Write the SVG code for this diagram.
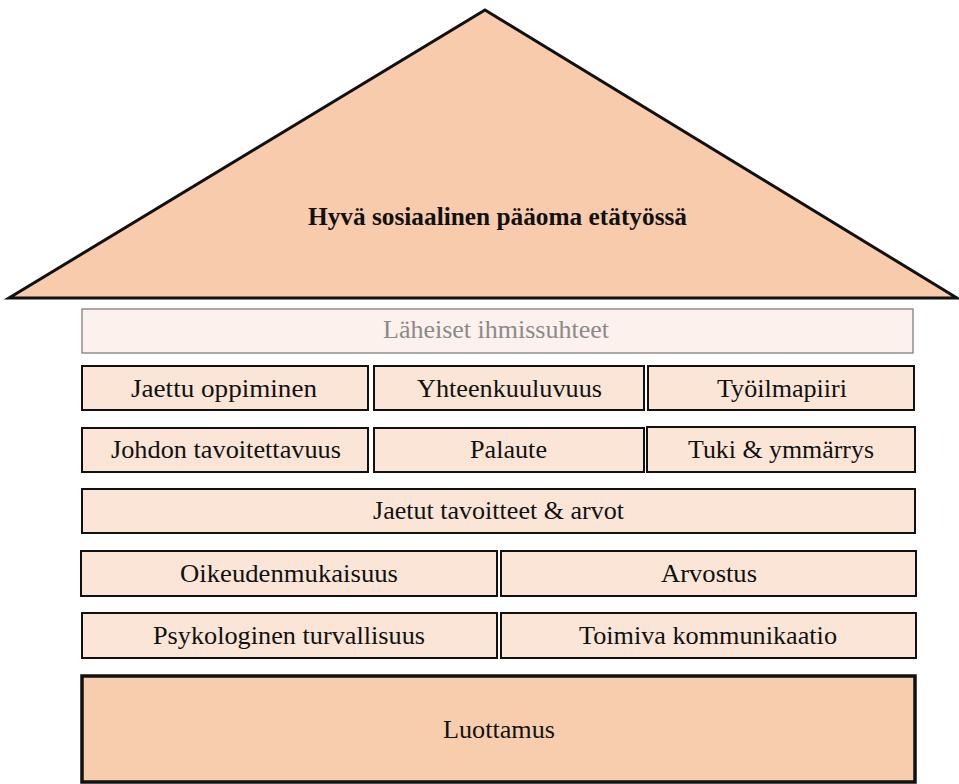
<svg xmlns="http://www.w3.org/2000/svg" width="959" height="784" viewBox="0 0 959 784">
<style>
.box{fill:#FBE5D6;stroke:#111;stroke-width:2}
.light{fill:#FCF1EC;stroke:#7F7F7F;stroke-width:1.3}
.strong{fill:#F8CDAE;stroke:#111;stroke-width:3.5}
text{font-family:"Liberation Serif","DejaVu Serif",serif;font-size:26px;fill:#111;text-anchor:middle}
.grey{fill:#8A8A8A}
.bold{font-weight:bold}
</style>
<rect width="959" height="784" fill="#fff"/>
<g id="roof">
<polygon points="485,10 957,298 9,298" fill="#F8CBAD" stroke="#111" stroke-width="3"/>
<text class="bold" x="497.5" y="225" textLength="379" lengthAdjust="spacingAndGlyphs">Hyvä sosiaalinen pääoma etätyössä</text>
</g>
<g id="laheiset">
<rect class="light" x="82" y="309" width="831" height="44"/>
<text class="grey" x="496" y="338" textLength="226" lengthAdjust="spacingAndGlyphs">Läheiset ihmissuhteet</text>
</g>
<g id="jaettu-oppiminen">
<rect class="box" x="82" y="366" width="286" height="44"/>
<text x="224" y="397" textLength="186" lengthAdjust="spacingAndGlyphs">Jaettu oppiminen</text>
</g>
<g id="yhteenkuuluvuus">
<rect class="box" x="374" y="366" width="270" height="44"/>
<text x="509.5" y="397" textLength="185" lengthAdjust="spacingAndGlyphs">Yhteenkuuluvuus</text>
</g>
<g id="tyoilmapiiri">
<rect class="box" x="648" y="366" width="266" height="44"/>
<text x="782" y="397" textLength="130" lengthAdjust="spacingAndGlyphs">Työilmapiiri</text>
</g>
<g id="johdon-tavoitettavuus">
<rect class="box" x="82" y="428" width="286" height="44"/>
<text x="226" y="458" textLength="230" lengthAdjust="spacingAndGlyphs">Johdon tavoitettavuus</text>
</g>
<g id="palaute">
<rect class="box" x="374" y="428" width="270" height="44"/>
<text x="508.5" y="458" textLength="77" lengthAdjust="spacingAndGlyphs">Palaute</text>
</g>
<g id="tuki">
<rect class="box" x="647" y="427" width="268" height="45"/>
<text x="781" y="458" textLength="186" lengthAdjust="spacingAndGlyphs">Tuki &amp; ymmärrys</text>
</g>
<g id="jaetut-tavoitteet">
<rect class="box" x="82" y="489" width="833" height="44"/>
<text x="498.5" y="519" textLength="251" lengthAdjust="spacingAndGlyphs">Jaetut tavoitteet &amp; arvot</text>
</g>
<g id="oikeudenmukaisuus">
<rect class="box" x="81" y="551" width="416" height="45"/>
<text x="289" y="582" textLength="218" lengthAdjust="spacingAndGlyphs">Oikeudenmukaisuus</text>
</g>
<g id="arvostus">
<rect class="box" x="501" y="551" width="415" height="45"/>
<text x="709" y="582" textLength="96" lengthAdjust="spacingAndGlyphs">Arvostus</text>
</g>
<g id="psykologinen-turvallisuus">
<rect class="box" x="82" y="613" width="415" height="45"/>
<text x="289" y="644" textLength="272" lengthAdjust="spacingAndGlyphs">Psykologinen turvallisuus</text>
</g>
<g id="toimiva-kommunikaatio">
<rect class="box" x="501" y="613" width="415" height="45"/>
<text x="708" y="644" textLength="258" lengthAdjust="spacingAndGlyphs">Toimiva kommunikaatio</text>
</g>
<g id="luottamus">
<rect class="strong" x="82" y="676" width="833" height="106"/>
<text x="499" y="738" textLength="112" lengthAdjust="spacingAndGlyphs">Luottamus</text>
</g>
</svg>
